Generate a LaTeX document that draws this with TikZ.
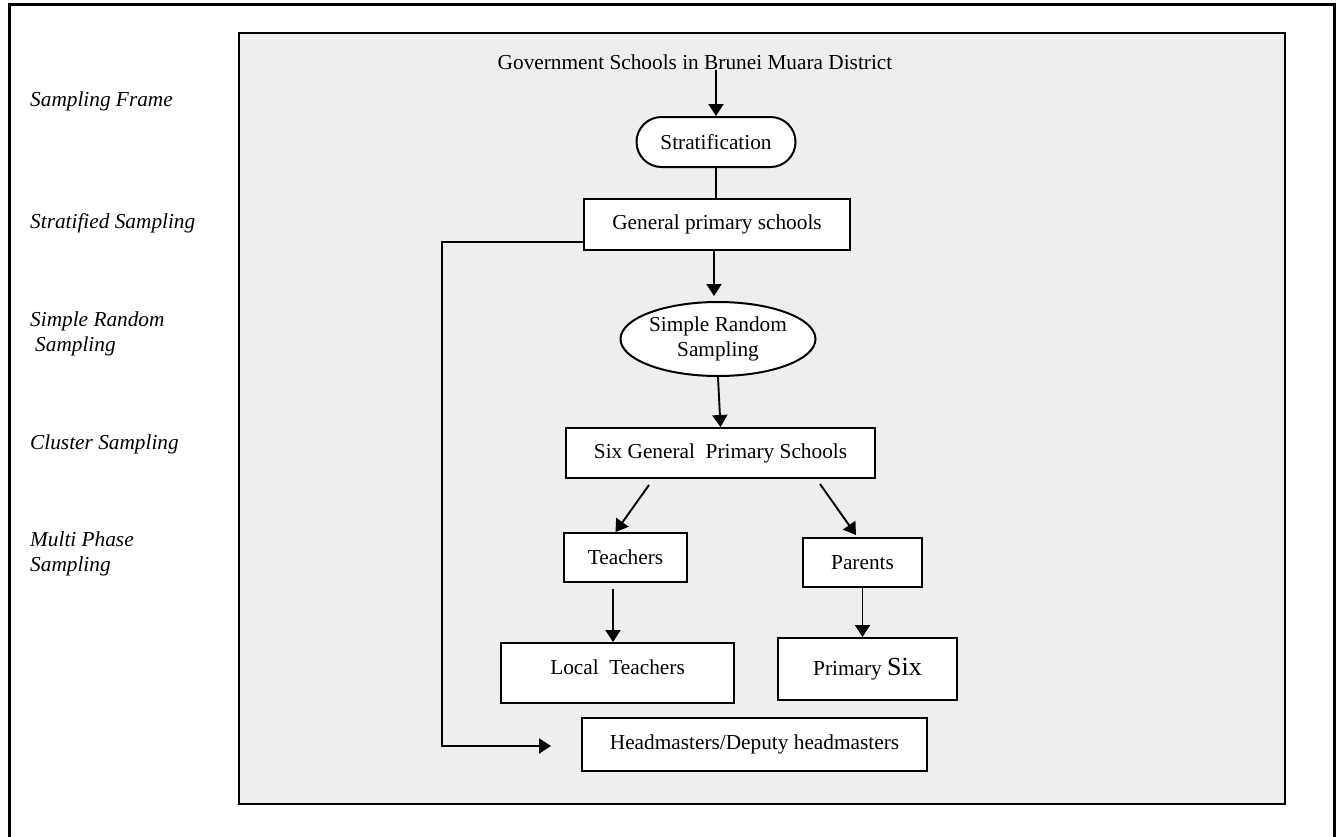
\documentclass[tikz,border=0pt]{standalone}
\usepackage{fontspec}
\setmainfont{Liberation Serif}
\usetikzlibrary{arrows.meta,calc,shapes.geometric}
\definecolor{panel}{HTML}{EEEEEE}
\begin{document}
\begin{tikzpicture}[x=1pt,y=-1pt,
  every node/.style={font=\fontsize{21.3}{25}\selectfont, inner sep=0pt},
  box/.style n args={2}{draw, line width=2pt, fill=white,
    minimum width=#1, minimum height=#2},
  conn/.style={line width=1.9pt},
  arr/.style={conn, -{Triangle[length=12pt,width=15pt]}},
  tag/.style={anchor=west, align=left,
    font=\itshape\fontsize{21.3}{25}\selectfont}]

\useasboundingbox (0,0) rectangle (1340,836);
\clip (0,0) rectangle (1340,836);
\fill[white] (0,0) rectangle (1340,836);

% outer frame (open at the bottom edge of the page)
\draw[line width=3pt] (9,860) -- (9,4) -- (1334,4) -- (1334,860);

% shaded panel holding the flow chart
\draw[line width=2pt, fill=panel] (239,33) rectangle (1285,804);

% stage labels on the left
\node[tag] (lframe) at (30,101) {Sampling Frame};
\node[tag] (lstrat) at (30,223) {Stratified Sampling};
\node[tag] (lsrs)   at (30,334) {Simple Random\\\hspace{5pt}Sampling};
\node[tag] (lclus)  at (30,444) {Cluster Sampling};
\node[tag] (lmulti) at (30,554) {Multi Phase\\Sampling};

% flow chart nodes
\node (title) at (695,62) {Government Schools in Brunei Muara District};
\node[box={159}{50}, rounded corners=25pt] (strat) at (716,142) {Stratification};
\node[box={266}{51}] (gps) at (717,224.5) {General primary schools};
\node[draw, ellipse, line width=2pt, fill=white, align=center,
      minimum width=194, minimum height=74] (srs) at (718,339)
      {Simple Random\\Sampling};
\node[box={309}{50}] (six) at (720.5,453) {Six General\ \ Primary Schools};
\node[box={123}{49}] (teach) at (625.5,557.5) {Teachers};
\node[box={119}{49}] (par) at (862.5,562.5) {Parents};
\node[box={233}{60}, text depth=12pt] (local) at (617.5,673) {Local\ \ Teachers};
\node[box={179}{62}] (psix) at (867.5,669)
      {Primary {\fontsize{26}{30}\selectfont Six}};
\node[box={345}{53}] (head) at (754.5,744.5) {Headmasters/Deputy headmasters};

% connector end points offset from the node borders
\coordinate (gpsout)   at ($(gps.south)+(-3,0)$);
\coordinate (teachout) at ($(teach.south)+(-12.5,6)$);
\coordinate (sixl)     at ($(six.south west)+(84,6)$);
\coordinate (sixr)     at ($(six.south west)+(255,5)$);
\coordinate (teachin)  at ($(teach.north)+(-10,0)$);
\coordinate (parin)    at ($(par.north)+(-6.5,-2)$);
\coordinate (gpsleft)  at ($(gps.south west)+(0,-9)$);
\coordinate (headin)   at ($(head.west)+(-30,1.5)$);

% connectors
\draw[arr] (title.south -| strat.north) -- (strat.north);
\draw[conn] (strat.south) -- (strat.south |- gps.north);
\draw[arr, shorten >=5pt] (gpsout) -- (gpsout |- srs.north);
\draw[arr] (srs.south) -- (six.north);
\draw[arr] (sixl) -- (teachin);
\draw[arr] (sixr) -- (parin);
\draw[arr] (teachout) -- (teachout |- local.north);
\draw[arr] (par.south) -- (par.south |- psix.north);
\draw[arr] (gpsleft) -- ++(-141,0) |- (headin);

\end{tikzpicture}
\end{document}
